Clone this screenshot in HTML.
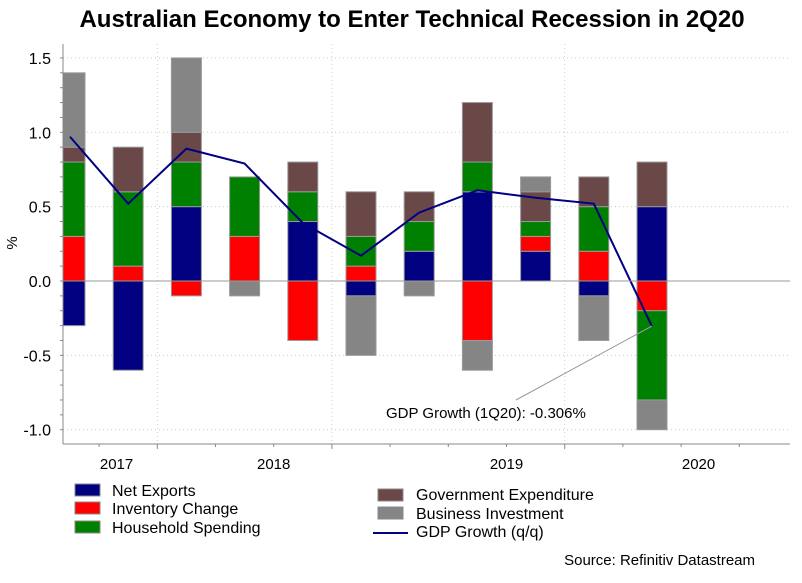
<!DOCTYPE html>
<html><head><meta charset="utf-8"><style>
body{margin:0;background:#fff;width:802px;height:578px;overflow:hidden;font-family:"Liberation Sans",sans-serif}
svg text{font-family:"Liberation Sans",sans-serif}
</style></head><body>
<svg id="chart" width="802" height="578" xmlns="http://www.w3.org/2000/svg">
<text x="412" y="27" text-anchor="middle" font-size="24" font-weight="bold">Australian Economy to Enter Technical Recession in 2Q20</text>
<g id="grid"></g>
<g id="bars"></g>
<g id="line"></g>
<g id="axes"></g>
<text x="0" y="0" font-size="15" transform="translate(17,243) rotate(-90)" text-anchor="middle">%</text>
<line x1="652" y1="326" x2="516" y2="400" stroke="#999" stroke-width="1"/>
<text x="386" y="418" font-size="15">GDP Growth (1Q20): -0.306%</text>
<g font-size="16">
<rect x="75" y="484" width="25" height="12" fill="#000080" stroke="#888"/>
<text x="112" y="496">Net Exports</text>
<rect x="75" y="502" width="25" height="12" fill="#ff0000" stroke="#888"/>
<text x="112" y="514">Inventory Change</text>
<rect x="75" y="521" width="25" height="12" fill="#008000" stroke="#888"/>
<text x="112" y="533">Household Spending</text>
<rect x="378" y="489" width="25" height="12" fill="#6b4848" stroke="#888"/>
<text x="416" y="500">Government Expenditure</text>
<rect x="378" y="507" width="25" height="12" fill="#858585" stroke="#888"/>
<text x="416" y="519">Business Investment</text>
<line x1="373" y1="533" x2="408" y2="533" stroke="#000080" stroke-width="2"/>
<text x="416" y="537">GDP Growth (q/q)</text>
</g>
<text x="755" y="565" text-anchor="end" font-size="15">Source: Refinitiv Datastream</text>
</svg>
<script>
const quarters = ["2Q17","3Q17","4Q17","1Q18","2Q18","3Q18","4Q18","1Q19","2Q19","3Q19","4Q19"];
const netExports = [-0.3,-0.6,0.5,0,0.4,-0.1,0.2,0.6,0.2,-0.1,0.5];
const inventory = [0.3,0.1,-0.1,0.3,-0.4,0.1,0,-0.4,0.1,0.2,-0.2];
const household = [0.5,0.5,0.3,0.4,0.2,0.2,0.2,0.2,0.1,0.3,-0.6];
const government = [0.1,0.3,0.2,0,0.2,0.3,0.2,0.4,0.2,0.2,0.3];
const business = [0.5,0,0.5,-0.1,0,-0.4,-0.1,-0.2,0.1,-0.3,-0.2];
const gdp = [0.97,0.52,0.89,0.79,0.39,0.17,0.46,0.61,0.56,0.52,-0.306];
const yTicks = [1.5,1.0,0.5,0.0,-0.5,-1.0];
const yearLabels = ["2017","2018","2019","2020"];
const yearIndex = [0.8,3.5,7.5,10.8];

const NS="http://www.w3.org/2000/svg";
const L=63,R=790,T=44,B=444;
const y=v=>281-v*148.7;
const x=i=>70+58.2*i;
const bw=30;
function mk(tag,attrs,parent){const e=document.createElementNS(NS,tag);for(const k in attrs)e.setAttribute(k,attrs[k]);parent.appendChild(e);return e;}
const grid=document.getElementById('grid'),bars=document.getElementById('bars'),axes=document.getElementById('axes'),lineG=document.getElementById('line');

yTicks.forEach(t=>{
  if(t!==0){const g=mk('line',{x1:L,x2:R,y1:y(t),y2:y(t),stroke:'#b8d8a8','stroke-dasharray':'1,3'},grid);
  
  }
  const tx=mk('text',{x:51,y:y(t)+6,'text-anchor':'end','font-size':16},axes);tx.textContent=t.toFixed(1);
  
  
});
for(let v=-1.0;v<=1.5001;v+=0.1){const m=mk('line',{x1:L-3,x2:L,y1:y(v),y2:y(v),stroke:'#888'},axes);
  
  }
[1.5,4.5,8.5].forEach(q=>{const g=mk('line',{x1:x(q),x2:x(q),y1:T,y2:B,stroke:'#c8d8b0','stroke-dasharray':'1,3'},grid);
  
  });

const series=[[netExports,'#000080','net-exports'],[inventory,'#ff0000','inventory'],[household,'#008000','household'],[government,'#6b4848','government'],[business,'#858585','business']];
const clip=mk('clipPath',{id:'pc'},bars);mk('rect',{x:L,y:0,width:R-L,height:600},clip);
bars.setAttribute('clip-path','url(#pc)');
quarters.forEach((q,i)=>{
  let pos=0,neg=0;
  series.forEach(([arr,col,nm])=>{
    const v=arr[i];if(v===0)return;
    let y0,y1;if(v>0){y0=pos;y1=pos+v;pos=y1;}else{y0=neg;y1=neg+v;neg=y1;}
    const r=mk('rect',{x:x(i)-bw/2,y:Math.min(y(y0),y(y1)),width:bw,height:Math.abs(y(y1)-y(y0)),fill:col,stroke:'#999','stroke-width':1},bars);
    
    
  });
});
const z=mk('line',{x1:L,x2:R,y1:y(0),y2:y(0),stroke:'#999'},axes);


const pl=mk('polyline',{points:gdp.map((v,i)=>x(i)+','+y(v)).join(' '),fill:'none',stroke:'#000080','stroke-width':2},lineG);


const ya=mk('line',{x1:L,x2:L,y1:T,y2:B,stroke:'#888'},axes);


const xa=mk('line',{x1:L,x2:R,y1:B,y2:B,stroke:'#888'},axes);


for(let k=0;k<12;k++){const q=k+0.5;const big=[1.5,4.5,8.5].includes(q);
  const t=mk('line',{x1:x(q),x2:x(q),y1:B,y2:B+(big?5:3),stroke:'#888'},axes);
  
  }
yearLabels.forEach((lb,k)=>{const t=mk('text',{x:x(yearIndex[k]),y:469,'text-anchor':'middle','font-size':15},axes);t.textContent=lb;
  
  });
</script>
</body></html>
